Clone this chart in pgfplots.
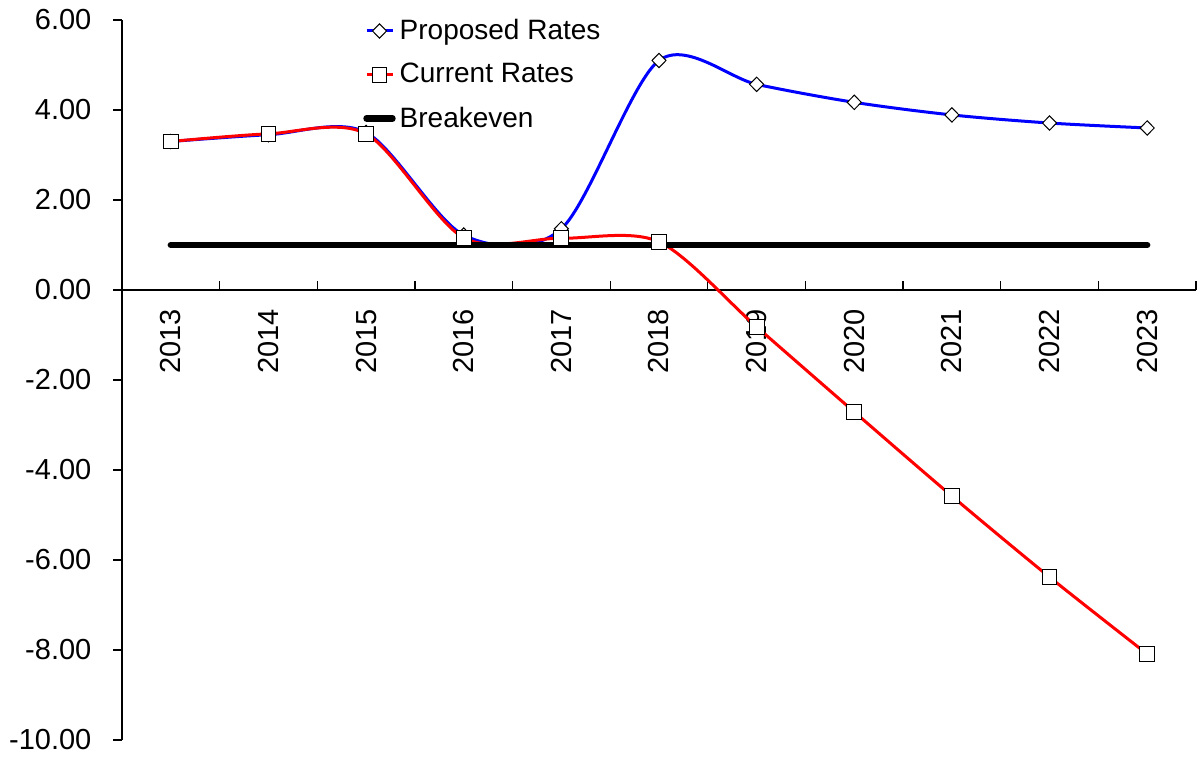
\documentclass[border=0pt]{standalone}
\usepackage{pgfplots}
\pgfplotsset{compat=1.18}
\usepackage{fontspec}
\setmainfont{Liberation Sans}
\begin{document}
\begin{tikzpicture}
\begin{axis}[
  name=ax,
  scale only axis,
  width=537pt, height=360pt,
  xmin=-0.5, xmax=10.5,
  ymin=-10, ymax=6,
  axis x line=middle,
  axis y line=left,
  axis line style={-, black, line width=0.6pt},
  ytick={-10,-8,...,6},
  yticklabel style={font=\fontsize{14.5pt}{17pt}\selectfont, xshift=-7.5pt},
  y tick label style={/pgf/number format/.cd, fixed, fixed zerofill, precision=2, assume math mode=true},
  xtick={0,...,10},
  xticklabels={2013,2014,2015,2016,2017,2018,2019,2020,2021,2022,2023},
  xticklabel style={font=\fontsize{14.5pt}{17pt}\selectfont, rotate=90, anchor=east, xshift=-6pt},
  major x tick style={draw=none},
  minor xtick={-0.5,0.5,...,10.5},
  minor x tick style={black, line width=0.6pt},
  minor tick length=4.3pt,
  major tick length=4.3pt,
  ytick style={black, line width=0.6pt},
  ytick align=outside,
  xtick align=inside,
  clip=false,
  legend style={draw=none, fill=none, at={(0.2243,1.007)}, anchor=north west,
    font=\fontsize{14pt}{17pt}\selectfont, row sep=6.4pt, inner xsep=0pt, inner ysep=0pt,
    cells={anchor=west}},
  legend cell align=left,
  legend image code/.code={\draw[#1, mark repeat=2, mark phase=2] plot coordinates {(0pt,0pt) (6.5pt,0pt) (13pt,0pt)};},
]
\addplot[blue, line width=1.5pt, smooth, mark=diamond*, mark size=3.6pt,
  mark options={fill=white, draw=black, line width=0.5pt, xscale=1.3, solid}]
  coordinates {(0,3.30) (1,3.45) (2,3.50) (3,1.22) (4,1.36) (5,5.10) (6,4.57) (7,4.17) (8,3.89) (9,3.71) (10,3.60)};
\addlegendentry{Proposed Rates}
\addplot[red, line width=1.5pt, smooth, mark=square*, mark size=3.7pt,
  mark options={fill=white, draw=black, line width=0.5pt, solid}]
  coordinates {(0,3.30) (1,3.47) (2,3.47) (3,1.16) (4,1.15) (5,1.07) (6,-0.82) (7,-2.71) (8,-4.58) (9,-6.38) (10,-8.09)};
\addlegendentry{Current Rates}
\addplot[black, line width=3.2pt, line cap=round, mark=none]
  coordinates {(0,1) (1,1) (2,1) (3,1) (4,1) (5,1) (6,1) (7,1) (8,1) (9,1) (10,1)};
\addlegendentry{Breakeven}
\end{axis}
\pgfresetboundingbox
\path ([xshift=-61pt,yshift=-9pt]ax.south west) rectangle ([xshift=1.5pt,yshift=10pt]ax.north east);
\end{tikzpicture}
\end{document}
